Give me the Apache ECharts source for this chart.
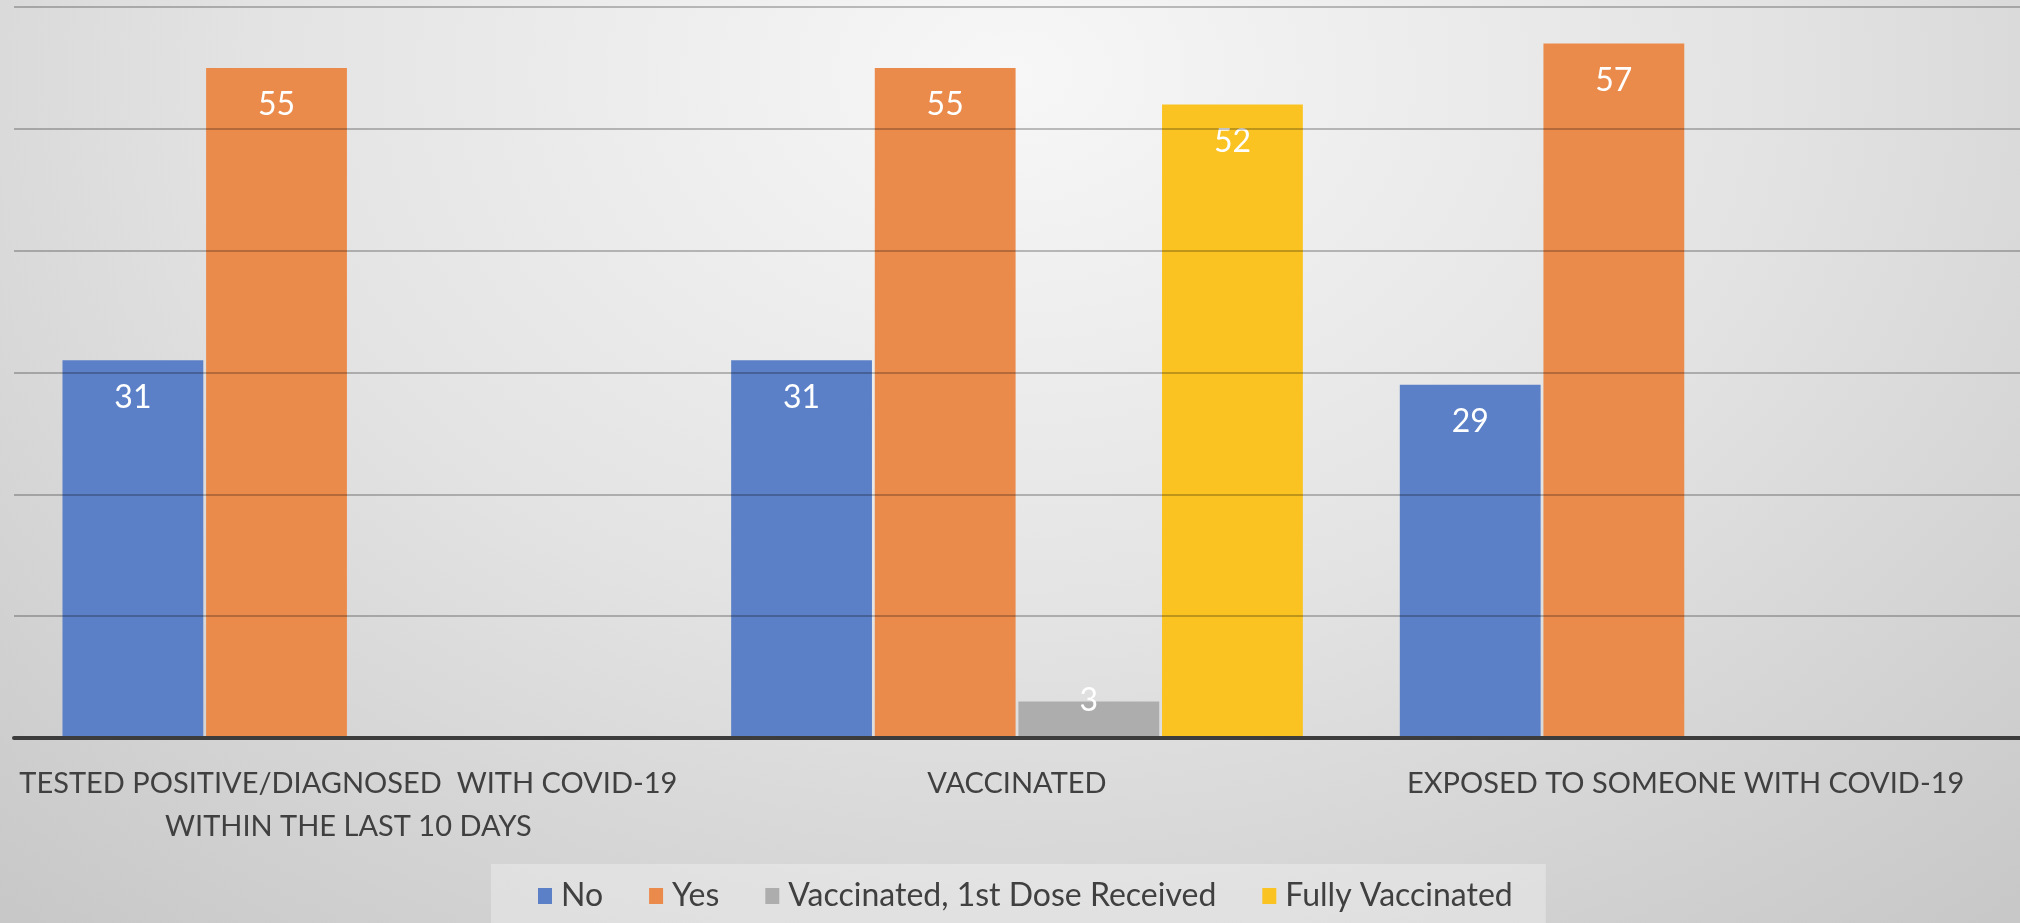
<!DOCTYPE html>
<html lang="en">
<head>
<meta charset="UTF-8">
<title>COVID-19 survey</title>
<script src="https://cdn.jsdelivr.net/npm/echarts/dist/echarts.min.js"></script>
<style>
    html, body {
        margin: 0;
        padding: 0;
        width: 2020px;
        height: 923px;
        overflow: hidden;
        background: radial-gradient(ellipse 75% 120% at 50% 8%, #f7f7f7 0%, #e3e3e3 50%, #c8c8c8 100%);
    }
    #chart {
        width: 2020px;
        height: 923px;
    }
</style>
</head>
<body>
<div id="chart"></div>
<script>
// data
var categories = [
    'TESTED POSITIVE/DIAGNOSED  WITH COVID-19\nWITHIN THE LAST 10 DAYS',
    'VACCINATED',
    'EXPOSED TO SOMEONE WITH COVID-19'
];
var noValues = [31, 31, 29];
var yesValues = [55, 55, 57];
var firstDoseValues = [null, 3, null];
var fullyValues = [null, 52, null];
var yTicks = { min: 0, max: 60, interval: 10 };

var font = 'Lato, "Liberation Sans", sans-serif';
var textColor = '#404040';

var barLabel = {
    show: true,
    position: 'insideTop',
    distance: 21,
    color: '#ffffff',
    fontFamily: font,
    fontSize: 32
};

function barSeries(name, data, color, label) {
    return {
        name: name,
        type: 'bar',
        data: data,
        itemStyle: { color: color },
        label: label || barLabel,
        barGap: '2%',
        barCategoryGap: '14.5%'
    };
}

var myChart = echarts.init(document.getElementById('chart'));

var option = {
    backgroundColor: 'transparent',
    animation: false,
    grid: { left: 14, right: -3, top: 7, bottom: 185 },
    legend: {
        left: 491,
        top: 864,
        padding: [16, 33, 30, 47],
        backgroundColor: 'rgba(255,255,255,0.3)',
        itemWidth: 14,
        itemHeight: 16,
        itemGap: 46,
        icon: 'rect',
        textStyle: { color: textColor, fontFamily: font, fontSize: 32, padding: [0, 0, 0, 4] },
        data: ['No', 'Yes', 'Vaccinated, 1st Dose Received', 'Fully Vaccinated']
    },
    xAxis: {
        type: 'category',
        data: categories,
        z: 3,
        axisLine: { lineStyle: { color: '#3c3c3c', width: 4 } },
        axisTick: { show: false },
        axisLabel: {
            interval: 0,
            margin: 24,
            color: textColor,
            fontFamily: font,
            fontSize: 29,
            lineHeight: 43
        }
    },
    yAxis: {
        type: 'value',
        min: yTicks.min,
        max: yTicks.max,
        interval: yTicks.interval,
        z: 3,
        axisLabel: { show: false },
        axisLine: { show: false },
        axisTick: { show: false },
        splitLine: { lineStyle: { color: 'rgba(0,0,0,0.24)', width: 2 } }
    },
    series: [
        barSeries('No', noValues, '#5b80c8'),
        barSeries('Yes', yesValues, '#eb8b4b'),
        barSeries('Vaccinated, 1st Dose Received', firstDoseValues, '#adadad',
            { show: true, position: 'top', distance: -15, color: '#ffffff', fontFamily: font, fontSize: 32 }),
        barSeries('Fully Vaccinated', fullyValues, '#fac322')
    ]
};

myChart.setOption(option);
</script>
</body>
</html>
